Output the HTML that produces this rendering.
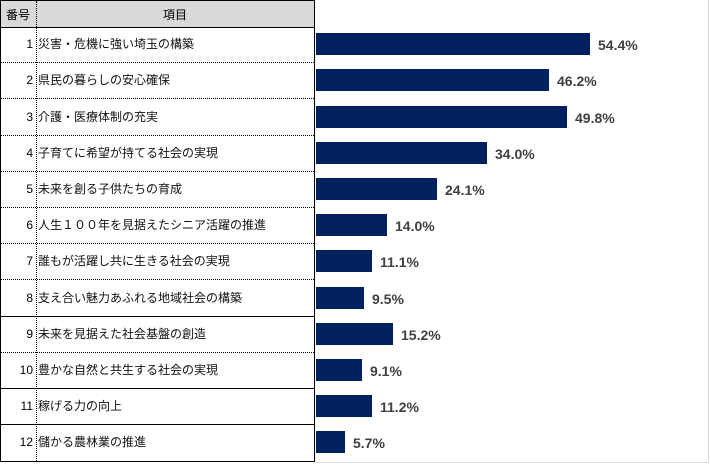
<!DOCTYPE html>
<html><head><meta charset="utf-8"><style>
body{margin:0;width:710px;height:464px;background:#fff;position:relative;overflow:hidden;font-family:"Liberation Sans","Noto Sans CJK JP",sans-serif;}
.t{position:absolute;left:0;top:0;width:315px;height:462px;border:1px solid #000;box-sizing:border-box;}
.h{position:absolute;left:0;top:0;width:313px;height:26px;background:#d9d9d9;border-bottom:1px solid #000;font-size:12px;}
.r{position:absolute;left:0;width:313px;font-size:12px;line-height:16px;height:16px;color:#000;}
.n{position:absolute;left:0;width:33px;text-align:right;top:0;}
.l{position:absolute;left:38px;top:0;color:#111;}
.vd{position:absolute;left:35px;top:0;height:460px;border-left:1px dotted #000;}
.b{position:absolute;left:316px;height:22px;background:#002060;}
.v{position:absolute;font-size:14px;line-height:16px;font-weight:bold;color:#404040;}
</style></head><body>
<div class="t">
<div class="h"><span style="position:absolute;left:5px;top:5px">番号</span><span style="position:absolute;left:162px;top:5px">項目</span></div>
<div class="vd"></div>
</div>
<div style="position:absolute;left:708px;top:0;height:462px;border-left:1px solid #d9d9d9"></div>
<div style="position:absolute;left:315px;top:462px;width:394px;border-top:1px solid #d9d9d9"></div>
<div id="rows"></div>
<script>
var d=[["災害・危機に強い埼玉の構築",54.4],["県民の暮らしの安心確保",46.2],["介護・医療体制の充実",49.8],["子育てに希望が持てる社会の実現",34.0],["未来を創る子供たちの育成",24.1],["人生１００年を見据えたシニア活躍の推進",14.0],["誰もが活躍し共に生きる社会の実現",11.1],["支え合い魅力あふれる地域社会の構築",9.5],["未来を見据えた社会基盤の創造",15.2],["豊かな自然と共生する社会の実現",9.1],["稼げる力の向上",11.2],["儲かる農林業の推進",5.7]];
var h="",rh=36.2;
d.forEach(function(e,i){var top=26+i*rh,c=top+rh/2;
var solid=(i==7||i==9||i==10);
if(i<11)h+='<div style="position:absolute;left:1px;width:313px;top:'+Math.round(top+rh)+'px;border-top:1px '+(solid?'solid':'dotted')+' #000"></div>';
h+='<div class="r" style="top:'+Math.round(c-8)+'px"><span class="n">'+(i+1)+'</span><span class="l">'+e[0]+'</span></div>';
var w=Math.round(e[1]*5.04);
h+='<div class="b" style="top:'+Math.round(c-11)+'px;width:'+w+'px"></div>';
h+='<div class="v" style="left:'+(316+w+8)+'px;top:'+Math.round(c-7)+'px">'+e[1].toFixed(1)+'%</div>';});
document.getElementById("rows").innerHTML=h;
</script>
</body></html>
